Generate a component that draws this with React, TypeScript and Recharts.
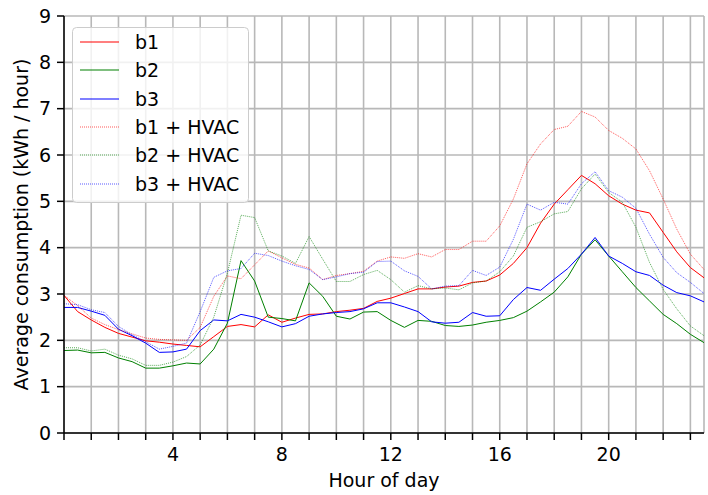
import { LineChart, Line, XAxis, YAxis, CartesianGrid, Legend } from 'recharts';

// half-hourly readings, hour of day
const hours = [
  0, 0.5, 1, 1.5, 2, 2.5, 3, 3.5, 4, 4.5, 5, 5.5, 6, 6.5, 7, 7.5,
  8, 8.5, 9, 9.5, 10, 10.5, 11, 11.5, 12, 12.5, 13, 13.5, 14, 14.5, 15, 15.5,
  16, 16.5, 17, 17.5, 18, 18.5, 19, 19.5, 20, 20.5, 21, 21.5, 22, 22.5, 23, 23.5,
];

const b1 = [
  2.97, 2.62, 2.44, 2.28, 2.15, 2.07, 1.99, 1.96, 1.92, 1.89, 1.86, 2.08, 2.30, 2.34, 2.29, 2.55,
  2.39, 2.48, 2.56, 2.57, 2.62, 2.65, 2.69, 2.84, 2.91, 3.01, 3.11, 3.11, 3.15, 3.17, 3.25, 3.28,
  3.41, 3.66, 4.00, 4.53, 4.94, 5.25, 5.56, 5.38, 5.12, 4.94, 4.81, 4.75, 4.33, 3.91, 3.57, 3.35,
];

const b2 = [
  1.78, 1.79, 1.73, 1.74, 1.62, 1.54, 1.40, 1.40, 1.45, 1.51, 1.49, 1.81, 2.37, 3.72, 3.28, 2.50,
  2.47, 2.42, 3.24, 2.95, 2.52, 2.46, 2.61, 2.62, 2.43, 2.28, 2.43, 2.41, 2.32, 2.30, 2.33, 2.39,
  2.43, 2.49, 2.63, 2.83, 3.04, 3.37, 3.86, 4.17, 3.82, 3.48, 3.14, 2.85, 2.56, 2.36, 2.13, 1.95,
];

const b3 = [
  2.71, 2.71, 2.63, 2.54, 2.24, 2.10, 1.94, 1.74, 1.75, 1.81, 2.21, 2.44, 2.42, 2.56, 2.50, 2.40,
  2.29, 2.36, 2.52, 2.57, 2.60, 2.62, 2.68, 2.81, 2.81, 2.72, 2.62, 2.40, 2.37, 2.39, 2.60, 2.52,
  2.53, 2.88, 3.14, 3.08, 3.32, 3.55, 3.86, 4.22, 3.82, 3.66, 3.48, 3.40, 3.19, 3.03, 2.96, 2.83,
];

const b1Hvac = [
  2.97, 2.75, 2.48, 2.34, 2.23, 2.14, 2.05, 2.02, 2.01, 2.00, 2.28, 2.95, 3.39, 3.33, 3.63, 3.93,
  3.78, 3.64, 3.56, 3.31, 3.40, 3.44, 3.49, 3.71, 3.80, 3.77, 3.87, 3.80, 3.96, 3.96, 4.14, 4.14,
  4.47, 5.05, 5.81, 6.24, 6.55, 6.62, 6.94, 6.82, 6.53, 6.36, 6.13, 5.66, 5.05, 4.40, 3.86, 3.53,
];

const b2Hvac = [
  1.84, 1.84, 1.77, 1.81, 1.68, 1.60, 1.46, 1.46, 1.53, 1.65, 1.90, 2.50, 3.45, 4.70, 4.65, 3.93,
  3.82, 3.66, 4.24, 3.75, 3.27, 3.27, 3.42, 3.51, 3.31, 3.04, 3.18, 3.11, 3.13, 3.09, 3.24, 3.28,
  3.48, 3.82, 4.44, 4.56, 4.73, 4.78, 5.27, 5.59, 5.19, 4.98, 4.44, 3.68, 3.10, 2.68, 2.31, 2.10,
];

const b3Hvac = [
  2.79, 2.77, 2.66, 2.60, 2.30, 2.12, 1.97, 1.81, 1.87, 1.94, 2.62, 3.36, 3.50, 3.55, 3.88, 3.83,
  3.71, 3.61, 3.53, 3.31, 3.37, 3.44, 3.47, 3.70, 3.71, 3.50, 3.38, 3.11, 3.17, 3.18, 3.51, 3.40,
  3.58, 4.18, 4.94, 4.81, 4.98, 4.94, 5.38, 5.64, 5.23, 5.09, 4.85, 4.29, 3.79, 3.46, 3.25, 3.01,
];

const xTicks = [0, 1, 2, 3, 4, 5, 6, 7, 8, 9, 10, 11, 12, 13, 14, 15, 16, 17, 18, 19, 20, 21, 22, 23];
const xLabels = [4, 8, 12, 16, 20];
const yTicks = [0, 1, 2, 3, 4, 5, 6, 7, 8, 9];

const series = [
  { key: 'b1', name: 'b1', color: '#ff0000', dotted: false },
  { key: 'b2', name: 'b2', color: '#008000', dotted: false },
  { key: 'b3', name: 'b3', color: '#0000ff', dotted: false },
  { key: 'b1Hvac', name: 'b1 + HVAC', color: '#ff0000', dotted: true },
  { key: 'b2Hvac', name: 'b2 + HVAC', color: '#008000', dotted: true },
  { key: 'b3Hvac', name: 'b3 + HVAC', color: '#0000ff', dotted: true },
];

const data = hours.map((hour, i) => ({
  hour,
  b1: b1[i],
  b2: b2[i],
  b3: b3[i],
  b1Hvac: b1Hvac[i],
  b2Hvac: b2Hvac[i],
  b3Hvac: b3Hvac[i],
}));

const FONT = 'DejaVu Sans, sans-serif';
const DOTS = '1 1';
const DOT_OPACITY = 0.65;

function LegendBox() {
  return (
    <svg width={177} height={176} style={{ display: 'block' }}>
      <rect x={0.5} y={0.5} width={176} height={175} rx={4} fill="rgba(255,255,255,0.8)" stroke="#cccccc" />
      {series.map((s, i) => {
        const cy = Math.round(15 + i * 28.3);
        return (
          <g key={s.key}>
            <line x1={8} x2={47} y1={cy} y2={cy} stroke={s.color} strokeWidth={1.2}
              strokeOpacity={s.dotted ? DOT_OPACITY : 1}
              strokeDasharray={s.dotted ? DOTS : undefined} />
            <text x={63} y={cy} dominantBaseline="central" fontSize={19} fontFamily={FONT} fill="#000">
              {s.name}
            </text>
          </g>
        );
      })}
    </svg>
  );
}

function YTitle(props: any) {
  const vb = props.viewBox || { x: 0, y: 16, width: 64, height: 417 };
  const cx = vb.x + 20.5;
  const cy = vb.y + vb.height / 2;
  return (
    <text x={cx} y={cy} transform={`rotate(-90 ${cx} ${cy})`} textAnchor="middle"
      dominantBaseline="central" fontSize={19} fontFamily={FONT} fill="#000">
      Average consumption (kWh / hour)
    </text>
  );
}

export default function App() {
  const tickStyle = { fill: '#000', fontSize: 19, fontFamily: FONT };
  const axisStroke = { stroke: '#000', strokeWidth: 1.5 };
  return (
    <div style={{ position: 'absolute', left: 0, top: 0, width: 708, height: 495, background: '#fff' }}>
      <LineChart width={708} height={495} data={data} margin={{ top: 16, right: 4, bottom: 0, left: 0 }}>
        <CartesianGrid stroke="#b8b8b8" strokeWidth={1.6} />
        <XAxis
          dataKey="hour"
          type="number"
          domain={[0, 23.5]}
          ticks={xTicks}
          interval={0}
          tickFormatter={(v: number) => (xLabels.includes(v) ? String(v) : '')}
          height={62}
          tickSize={7}
          tickMargin={7.5}
          tick={tickStyle}
          tickLine={axisStroke}
          axisLine={axisStroke}
          label={{ value: 'Hour of day', position: 'insideBottom', offset: 8, fontSize: 19, fontFamily: FONT, fill: '#000' }}
        />
        <XAxis xAxisId="top" orientation="top" dataKey="hour" type="number" domain={[0, 23.5]}
          height={0} tick={false} tickLine={false} axisLine={axisStroke} />
        <YAxis
          type="number"
          domain={[0, 9]}
          ticks={yTicks}
          interval={0}
          width={64}
          tickSize={7}
          tickMargin={6}
          tick={tickStyle}
          tickLine={axisStroke}
          axisLine={axisStroke}
          label={{ content: (p: any) => <YTitle {...p} /> }}
        />
        <YAxis yAxisId="right" orientation="right" type="number" domain={[0, 9]}
          width={0} tick={false} tickLine={false} axisLine={axisStroke} />
        {series.map((s) => (
          <Line
            key={s.key}
            dataKey={s.key}
            name={s.name}
            stroke={s.color}
            strokeWidth={1}
            strokeOpacity={s.dotted ? DOT_OPACITY : 1}
            strokeDasharray={s.dotted ? DOTS : undefined}
            dot={false}
            activeDot={false}
            type="linear"
            isAnimationActive={false}
          />
        ))}
        <Legend
          layout="vertical"
          align="center"
          verticalAlign="middle"
          content={() => <LegendBox />}
          wrapperStyle={{ position: 'absolute', left: 72, top: 27, width: 177, height: 176 }}
        />
      </LineChart>
    </div>
  );
}
